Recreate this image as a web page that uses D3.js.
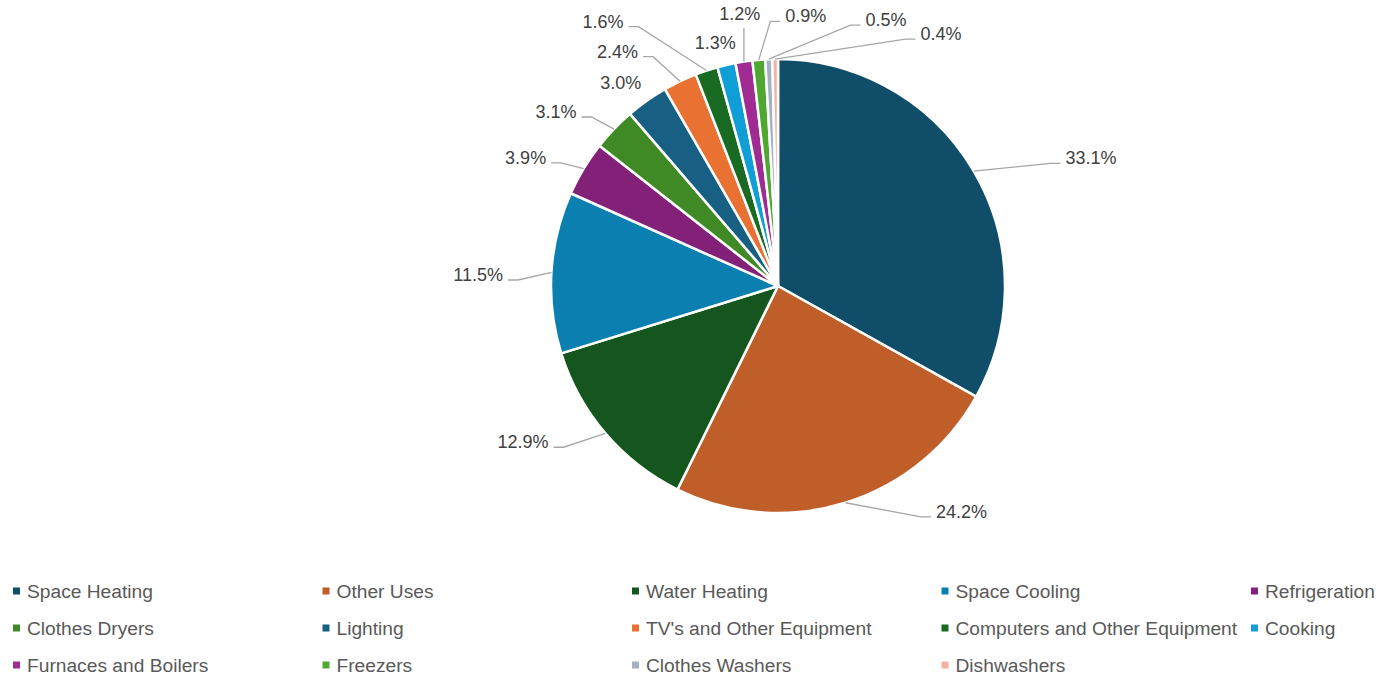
<!DOCTYPE html>
<html>
<head>
<meta charset="utf-8">
<script src="https://cdn.jsdelivr.net/npm/d3@7"></script>
<style>
  html, body { margin: 0; padding: 0; background: #fff; }
  svg { display: block; }
</style>
</head>
<body>
<svg id="chart" width="1378" height="675"></svg>
<script>
// Residential energy end uses, share of total (%)
const categories = [
  "Space Heating", "Other Uses", "Water Heating", "Space Cooling", "Refrigeration",
  "Clothes Dryers", "Lighting", "TV's and Other Equipment", "Computers and Other Equipment",
  "Cooking", "Furnaces and Boilers", "Freezers", "Clothes Washers", "Dishwashers"
];
const shares = [33.1, 24.2, 12.9, 11.5, 3.9, 3.1, 3.0, 2.4, 1.6, 1.3, 1.2, 0.9, 0.5, 0.4];
const colors = [
  "#104d69", "#c05e29", "#14561e", "#0b80b0", "#832077",
  "#3f8a24", "#176084", "#e97132", "#196b24", "#0f9ed5",
  "#a02b93", "#4ea72e", "#a3b2c3", "#f2b1a2"
];
// Data-label placement around the pie: [angle in degrees clockwise from 12 o'clock, distance from centre]
const labelSpots = [
  [67.8, 338], [140.9, 291], [-121.5, 299], [-87.9, 300], [-63.1, 283],
  [-51.9, 282], [-37.7, 257], [-34.4, 284], [-33.5, 317], [-14.5, 251],
  [-8.0, 275], [5.9, 271], [22.1, 287], [32.9, 300]
];

const svg = d3.select("#chart");
const cx = 778, cy = 286, radius = 227;
const rad = d => d * Math.PI / 180;

const data = categories.map((c, i) => ({ name: c, value: shares[i], color: colors[i], spot: labelSpots[i] }));

const pie = d3.pie().value(d => d.value).sort(null);
const arc = d3.arc().innerRadius(0).outerRadius(radius);
const arcs = pie(data);

const g = svg.append("g").attr("transform", `translate(${cx},${cy})`);

g.selectAll("path.slice")
  .data(arcs)
  .join("path")
  .attr("class", "slice")
  .attr("d", arc)
  .attr("fill", d => d.data.color)
  .attr("stroke", "#fff")
  .attr("stroke-width", 2.5)
  .attr("stroke-linejoin", "round");

// Data labels with leader lines
const labelLayer = g.append("g");

arcs.forEach(d => {
  const mid = (d.startAngle + d.endAngle) / 2;
  const sx = radius * Math.sin(mid), sy = -radius * Math.cos(mid);
  const [ang, dist] = d.data.spot;
  const lx = dist * Math.sin(rad(ang)), ly = -dist * Math.cos(rad(ang));

  const t = labelLayer.append("text")
    .attr("x", lx).attr("y", ly)
    .attr("text-anchor", "middle")
    .attr("dominant-baseline", "central")
    .attr("font-family", "'Liberation Sans', Arial, sans-serif")
    .attr("font-size", 18)
    .attr("fill", "#404040")
    .text(d3.format(".1f")(d.data.value) + "%");
  const w = t.node().getComputedTextLength();

  let pts;
  if (Math.abs(sx - lx) > w / 2 + 4) {
    const side = sx > lx ? 1 : -1;
    const ax = lx + side * (w / 2 + 5), ay = ly + 5;
    pts = [[ax, ay], [ax + side * 10, ay], [sx, sy]];
  } else {
    const ax = Math.max(lx - w / 2, Math.min(lx + w / 2, sx));
    pts = [[ax, ly + 14], [sx, sy]];
  }
  const a = pts[0];
  if (Math.hypot(a[0] - sx, a[1] - sy) < 16) return;
  labelLayer.append("path")
    .attr("d", d3.line()(pts))
    .attr("fill", "none")
    .attr("stroke", "#a6a6a6")
    .attr("stroke-width", 1.3);
});

// Legend: five columns, three rows
const legendCols = 5, colStep = 309.5, rowStep = 37;
const lx0 = 13, ly0 = 591;
const legend = svg.append("g");
const items = legend.selectAll("g.item")
  .data(data)
  .join("g")
  .attr("class", "item")
  .attr("transform", (d, i) => `translate(${lx0 + (i % legendCols) * colStep},${ly0 + Math.floor(i / legendCols) * rowStep})`);
items.append("rect")
  .attr("x", 0).attr("y", -3.5)
  .attr("width", 7).attr("height", 7)
  .attr("fill", d => d.color);
items.append("text")
  .attr("x", 14).attr("y", 0)
  .attr("dominant-baseline", "central")
  .attr("font-family", "'Liberation Sans', Arial, sans-serif")
  .attr("font-size", 19.2)
  .attr("fill", "#595959")
  .text(d => d.name);
</script>
</body>
</html>
